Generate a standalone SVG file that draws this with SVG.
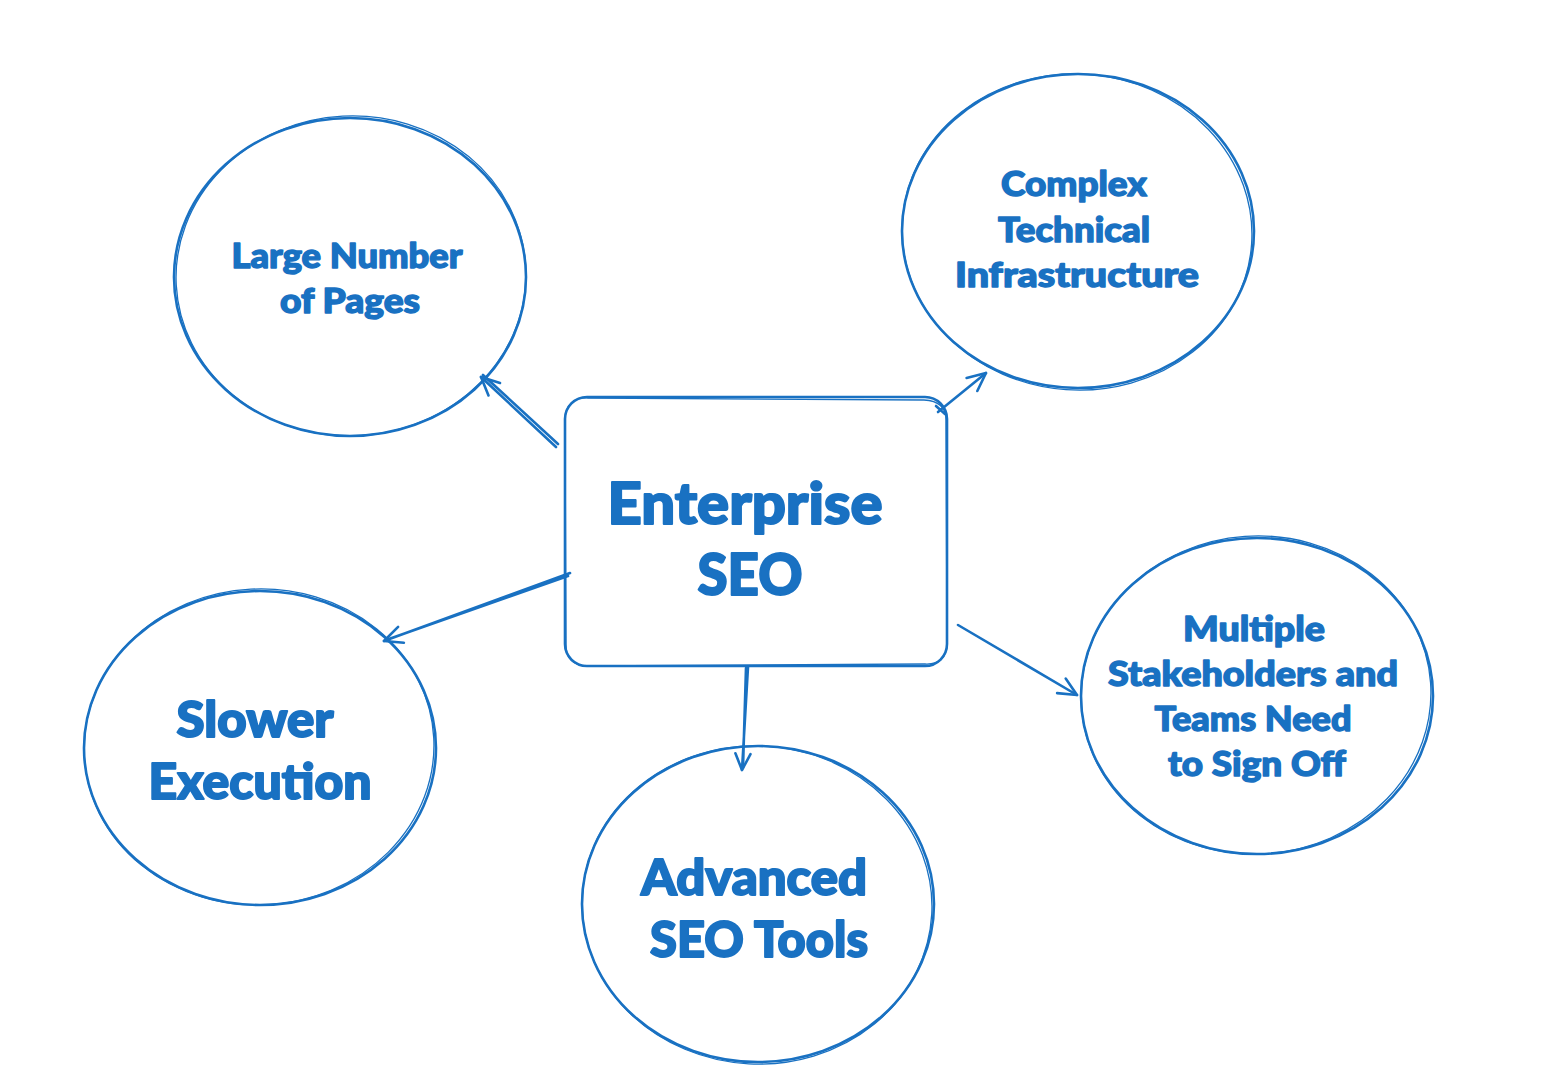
<svg xmlns="http://www.w3.org/2000/svg" width="1548" height="1082" viewBox="0 0 1548 1082">
<style>
.sh{fill:none;stroke:#1971c2;stroke-width:2.6;stroke-linecap:round;stroke-linejoin:round}
.sh2{fill:none;stroke:#1971c2;stroke-width:1.3;stroke-linecap:round}
.cn{fill:none;stroke:#1971c2;stroke-width:2.6;stroke-linecap:round;stroke-linejoin:round}
.t{font-family:Lato,"Open Sans","Liberation Sans",sans-serif;font-weight:900;fill:#1971c2;stroke:#1971c2;stroke-width:1.4;stroke-linejoin:round;text-anchor:middle}
.tb{stroke-width:2}
</style>
<rect x="0" y="0" width="1548" height="1082" fill="#ffffff"/>
<g id="node-large-pages">
<ellipse class="sh" cx="350" cy="277" rx="176" ry="159"/>
<ellipse class="sh2" cx="351" cy="276" rx="175" ry="160" transform="rotate(-3 351 276)"/>
<text class="t" font-size="34"><tspan x="347" y="268" textLength="231" lengthAdjust="spacingAndGlyphs">Large Number</tspan><tspan x="350" y="313" textLength="140" lengthAdjust="spacingAndGlyphs">of Pages</tspan></text>
</g>
<g id="node-complex-infra">
<ellipse class="sh" cx="1078" cy="231" rx="176" ry="157"/>
<ellipse class="sh2" cx="1077" cy="232" rx="175" ry="158" transform="rotate(4 1077 232)"/>
<text class="t" font-size="34"><tspan x="1074" y="196" textLength="146" lengthAdjust="spacingAndGlyphs">Complex</tspan><tspan x="1074" y="242" textLength="152" lengthAdjust="spacingAndGlyphs">Technical</tspan><tspan x="1077" y="287" textLength="244" lengthAdjust="spacingAndGlyphs">Infrastructure</tspan></text>
</g>
<g id="node-stakeholders">
<ellipse class="sh" cx="1257" cy="696" rx="176" ry="158"/>
<ellipse class="sh2" cx="1256" cy="695" rx="175" ry="159" transform="rotate(-4 1256 695)"/>
<text class="t" font-size="34"><tspan x="1254" y="641" textLength="142" lengthAdjust="spacingAndGlyphs">Multiple</tspan><tspan x="1253" y="686" textLength="290" lengthAdjust="spacingAndGlyphs">Stakeholders and</tspan><tspan x="1253" y="731" textLength="197" lengthAdjust="spacingAndGlyphs">Teams Need</tspan><tspan x="1257" y="776" textLength="178" lengthAdjust="spacingAndGlyphs">to Sign Off</tspan></text>
</g>
<g id="node-advanced-tools">
<ellipse class="sh" cx="758" cy="904" rx="176" ry="158"/>
<ellipse class="sh2" cx="757" cy="905" rx="175" ry="159" transform="rotate(3 757 905)"/>
<text class="t tb" font-size="50"><tspan x="754" y="895" textLength="226" lengthAdjust="spacingAndGlyphs">Advanced</tspan><tspan x="759" y="957" textLength="218" lengthAdjust="spacingAndGlyphs">SEO Tools</tspan></text>
</g>
<g id="node-slower">
<ellipse class="sh" cx="260" cy="748" rx="176" ry="157"/>
<ellipse class="sh2" cx="259" cy="747" rx="175" ry="158" transform="rotate(-3 259 747)"/>
<text class="t tb" font-size="50"><tspan x="255" y="737" textLength="157" lengthAdjust="spacingAndGlyphs">Slower</tspan><tspan x="260" y="799" textLength="223" lengthAdjust="spacingAndGlyphs">Execution</tspan></text>
</g>
<g id="node-enterprise">
<rect class="sh" x="565" y="397" width="382" height="269" rx="22"/>
<path class="sh2" d="M588 398 L924 400 Q946 401 946 420 L947 644 Q946 665 925 664 L587 666 Q566 665 566 645 L565 420 Q566 397 588 398"/>
<text class="t tb" font-size="58"><tspan x="745" y="524" textLength="275" lengthAdjust="spacingAndGlyphs">Enterprise</tspan><tspan x="750" y="595" textLength="105" lengthAdjust="spacingAndGlyphs">SEO</tspan></text>
</g>
<g id="connectors">
<path class="cn" d="M556 447 L481 377 M558 444 L483 375"/>
<path class="cn" d="M488.5 395.5 L481 377 L500 383"/>
<path class="cn" d="M938 412 L986 373 M936 406 L945 414"/>
<path class="cn" d="M966.6 377.9 L986 373 L977.3 391"/>
<path class="cn" d="M958 625 L1077 695"/>
<path class="cn" d="M1065.7 678.5 L1077 695 L1057.1 693.1"/>
<path class="cn" d="M570 573 L384 641 M568 576 L386 640"/>
<path class="cn" d="M403.9 642.7 L384 641 L398.1 626.8"/>
<path class="cn" d="M748 667 L742 770 M746 668 L743 768"/>
<path class="cn" d="M750.5 754.2 L742 770 L735.4 753.3"/>
</g>
</svg>
